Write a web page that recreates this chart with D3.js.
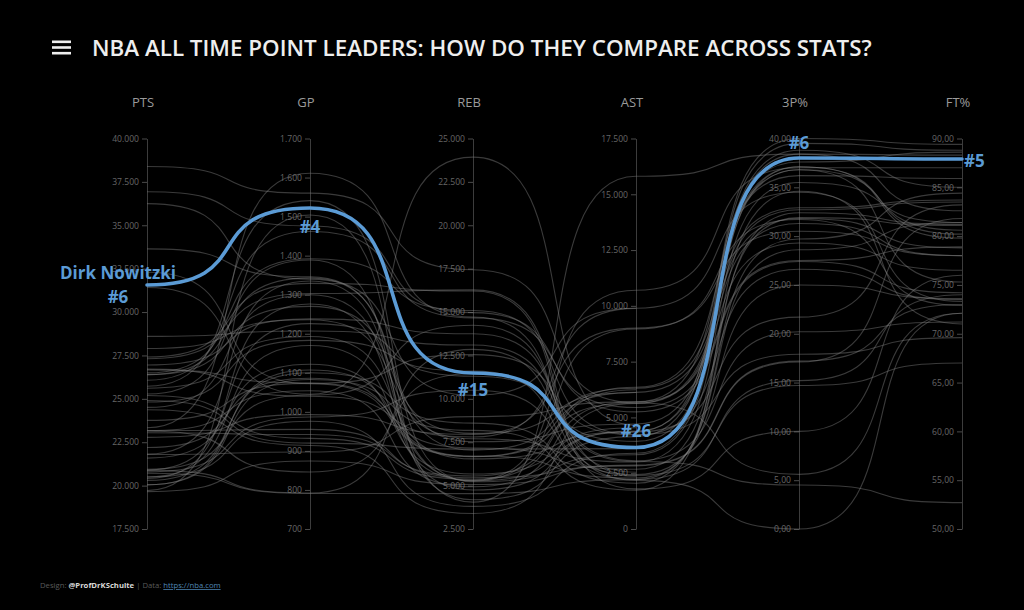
<!DOCTYPE html>
<html>
<head>
<meta charset="utf-8">
<script src="https://cdn.jsdelivr.net/npm/d3@7"></script>
<style>
  html, body { margin: 0; padding: 0; background: #000; }
  svg { display: block; font-family: "Open Sans", "Noto Sans", sans-serif; }
</style>
</head>
<body>
<svg id="chart" width="1024" height="610"></svg>
<script>
/* NBA all time point leaders - parallel coordinates */

// ---- data ----
const dims = ['PTS', 'GP', 'REB', 'AST', '3P%', 'FT%'];

const players = [
  'Kareem Abdul-Jabbar', 'Karl Malone', 'LeBron James', 'Kobe Bryant', 'Michael Jordan',
  'Dirk Nowitzki', 'Wilt Chamberlain', "Shaquille O'Neal", 'Carmelo Anthony', 'Moses Malone',
  'Elvin Hayes', 'Hakeem Olajuwon', 'Oscar Robertson', 'Dominique Wilkins', 'Tim Duncan',
  'Paul Pierce', 'John Havlicek', 'Kevin Garnett', 'Vince Carter', 'Alex English',
  'Kevin Durant', 'Reggie Miller', 'Jerry West', 'Patrick Ewing', 'Ray Allen',
  'Allen Iverson', 'Charles Barkley', 'Robert Parish', 'Adrian Dantley', 'Dwyane Wade',
  'Elgin Baylor', 'James Harden', 'Russell Westbrook', 'Clyde Drexler', 'Gary Payton',
  'Larry Bird', 'Hal Greer', 'Walt Bellamy', 'Pau Gasol', 'Bob Pettit',
  'David Robinson', 'George Gervin', 'Chris Paul', 'Mitch Richmond', 'Joe Johnson',
  'LaMarcus Aldridge', 'Tom Chambers', 'Antawn Jamison', 'John Stockton', 'Bernard King'
];

const pts = [
  38387, 36928, 36250, 33643, 32292, 31560, 31419, 28596, 27900, 27409,
  27313, 26946, 26710, 26668, 26496, 26397, 26395, 26071, 25728, 25613,
  24900, 25279, 25192, 24815, 24505, 24368, 23757, 23334, 23177, 23165,
  23149, 23050, 22780, 22195, 21813, 21791, 21586, 20941, 20894, 20880,
  20790, 20708, 20500, 20497, 20407, 20300, 20049, 20042, 19711, 19655
];

const gp = [
  1560, 1476, 1340, 1346, 1072, 1522, 1045, 1207, 1236, 1329,
  1303, 1238, 1040, 1074, 1392, 1343, 1270, 1462, 1541, 1193,
  920, 1389, 932, 1183, 1300, 914, 1073, 1611, 955, 1054,
  846, 942, 993, 1086, 1335, 897, 1122, 1043, 1226, 792,
  987, 791, 1170, 976, 1276, 1100, 1107, 1083, 1504, 874
];

const reb = [
  17440, 14968, 10200, 7047, 6672, 11489, 23924, 13099, 7700, 16212,
  16279, 13748, 7804, 7169, 15091, 7527, 8007, 14662, 5220, 6538,
  7100, 4182, 5366, 11607, 5272, 3394, 12546, 14715, 5455, 4933,
  11463, 5550, 7950, 6677, 5269, 8974, 5665, 14241, 11305, 12849,
  10497, 4541, 5300, 3801, 4743, 8600, 6703, 8182, 4051, 5060
];

const ast = [
  5660, 5248, 9890, 6306, 5633, 3651, 4643, 3026, 3000, 1796,
  2398, 3058, 9887, 2677, 4225, 4708, 6114, 5445, 3326, 4351,
  3600, 4141, 6238, 2215, 4361, 5624, 4215, 2180, 2830, 5701,
  3650, 6350, 9000, 6125, 8966, 5695, 4540, 2544, 3925, 2369,
  2441, 2214, 10700, 3398, 4394, 2050, 2283, 1740, 15806, 2863
];

// null = no three point line in that era
const fg3 = [
  5.6, 27.4, 34.5, 32.9, 32.7, 38.0, null, 4.5, 35.5, 10.0,
  14.7, 20.2, null, 31.9, 17.9, 36.8, null, 27.5, 37.1, 21.7,
  38.4, 39.5, null, 15.2, 40.0, 31.3, 26.6, 0.0, 17.1, 29.3,
  null, 36.2, 30.5, 31.8, 31.7, 37.6, null, null, 36.8, null,
  25.0, 29.7, 37.0, 38.8, 37.1, 32.4, 28.6, 34.6, 38.4, 17.2
];

const ft = [
  72.1, 74.2, 73.3, 83.7, 83.5, 87.9, 51.1, 52.7, 81.4, 76.0,
  67.0, 71.2, 83.8, 81.1, 69.6, 80.6, 81.5, 78.9, 79.8, 83.2,
  88.3, 88.8, 81.4, 74.0, 89.4, 78.0, 73.5, 72.1, 81.8, 76.5,
  78.0, 85.9, 78.0, 78.8, 72.9, 88.6, 80.1, 63.2, 75.3, 76.1,
  73.6, 84.4, 87.0, 85.0, 80.2, 81.2, 81.4, 71.0, 82.6, 73.0
];

const highlightName = 'Dirk Nowitzki';
const highlightRanks = ['#6', '#4', '#15', '#26', '#6', '#5'];

const axisDomains = [[17500, 40000], [700, 1700], [2500, 25000], [0, 17500], [0, 40], [50, 90]];
const tickSteps = [2500, 100, 2500, 2500, 5, 5];

// ---- layout ----
const W = 1024, H = 610;
const axisLeft = 147, axisRight = 962, axisTop = 138.5, axisBottom = 529;
const blue = '#5b9bd5';
// rank label placement per axis: [dx, dy, anchor]
const rankPos = [[-29, 12, 'middle'], [0, 18, 'middle'], [0, 17, 'middle'],
                 [0, -17, 'middle'], [0, -16, 'middle'], [2, 1, 'start']];

const de = d3.formatLocale({ decimal: ',', thousands: '.', grouping: [3], currency: ['', '€'] });
const fmtInt = de.format(',.0f');
const fmtPct = de.format(',.2f');

const columns = [pts, gp, reb, ast, fg3, ft];

const svg = d3.select('#chart');
svg.append('rect').attr('width', W).attr('height', H).attr('fill', '#000');

const x = d3.scalePoint().domain(dims).range([axisLeft, axisRight]);
const yScales = axisDomains.map(dom => d3.scaleLinear().domain(dom).range([axisBottom, axisTop]));

// ---- title ----
const menu = svg.append('g').attr('fill', '#eee');
[40.5, 46.2, 51.9].forEach(y => {
  menu.append('rect').attr('x', 52).attr('y', y).attr('width', 19).attr('height', 2.6);
});

const title = svg.append('text')
  .attr('x', 92).attr('y', 56)
  .attr('fill', '#eeeeee')
  .attr('font-size', 22)
  .attr('font-weight', 600)
  .text('NBA ALL TIME POINT LEADERS: HOW DO THEY COMPARE ACROSS STATS?');
// stretch the title to the reference width (ends near x = 872)
const tLen = title.node().getComputedTextLength();
if (tLen > 0) title.attr('font-size', 22 * 780 / tLen);

// ---- axes ----
dims.forEach((d, i) => {
  const [lo, hi] = axisDomains[i];
  const ticks = d3.range(lo, hi + tickSteps[i] / 2, tickSteps[i]);
  const axis = d3.axisLeft(yScales[i])
    .tickValues(ticks)
    .tickFormat(i >= 4 ? fmtPct : fmtInt)
    .tickSize(5)
    .tickSizeOuter(0)
    .tickPadding(3);

  const g = svg.append('g')
    .attr('transform', `translate(${x(d)},0)`)
    .call(axis);
  g.select('.domain').attr('stroke', '#3c3c3c');
  g.selectAll('.tick line').attr('stroke', '#4a4a4a');
  g.selectAll('.tick text')
    .attr('fill', '#666')
    .attr('font-size', 8.6)
    .attr('font-family', '"Open Sans", "Noto Sans", sans-serif');

  svg.append('text')
    .attr('x', x(d) - 4).attr('y', 107)
    .attr('text-anchor', 'middle')
    .attr('fill', '#9a9a9a')
    .attr('font-size', 13)
    .text(d);
});

// ---- lines ----
// smooth step between axes: horizontal at each axis, steep in the middle
function curveSigmoid(k) {
  return function(context) {
    let x0, y0, p = 0;
    return {
      areaStart() {}, areaEnd() {},
      lineStart() { p = 0; },
      lineEnd() {},
      point(px, py) {
        px = +px; py = +py;
        if (p === 0) { context.moveTo(px, py); p = 1; }
        else {
          const dx = (px - x0) * k;
          context.bezierCurveTo(x0 + dx, y0, px - dx, py, px, py);
        }
        x0 = px; y0 = py;
      }
    };
  };
}

const rows = players.map((name, r) => ({
  name,
  values: dims.map((d, i) => ({ dim: d, i, v: columns[i][r] }))
}));

const line = d3.line()
  .defined(p => p.v != null)
  .x(p => x(p.dim))
  .y(p => yScales[p.i](p.v))
  .curve(curveSigmoid(0.7));

svg.append('g')
  .selectAll('path')
  .data(rows.filter(r => r.name !== highlightName))
  .join('path')
  .attr('d', r => line(r.values))
  .attr('fill', 'none')
  .attr('stroke', '#808080')
  .attr('stroke-opacity', 0.45)
  .attr('stroke-width', 1.1);

const hi = rows.find(r => r.name === highlightName);
svg.append('path')
  .attr('d', line(hi.values))
  .attr('fill', 'none')
  .attr('stroke', blue)
  .attr('stroke-width', 3.6)
  .attr('stroke-linecap', 'round');

// ---- highlight labels ----
const lab = svg.append('g')
  .attr('fill', blue)
  .attr('font-weight', 700)
  .attr('font-size', 17);

hi.values.forEach((p, i) => {
  const [dx, dy, anchor] = rankPos[i];
  lab.append('text')
    .attr('x', x(p.dim) + dx)
    .attr('y', yScales[i](p.v) + dy)
    .attr('dominant-baseline', 'central')
    .attr('text-anchor', anchor)
    .text(highlightRanks[i]);
});
lab.append('text')
  .attr('x', x(dims[0]) - 29)
  .attr('y', yScales[0](hi.values[0].v) - 12)
  .attr('dominant-baseline', 'central')
  .attr('text-anchor', 'middle')
  .text(highlightName);

// ---- footer ----
const foot = svg.append('text')
  .attr('x', 40).attr('y', 588)
  .attr('font-size', 7.7)
  .attr('fill', '#5a5a5a');
foot.append('tspan').text('Design: ');
foot.append('tspan').attr('fill', '#d8d8d8').attr('font-weight', 700).text('@ProfDrKSchulte');
foot.append('tspan').text(' | Data: ');
foot.append('tspan').attr('fill', '#4f86b5').attr('text-decoration', 'underline').text('https://nba.com');
</script>
</body>
</html>
